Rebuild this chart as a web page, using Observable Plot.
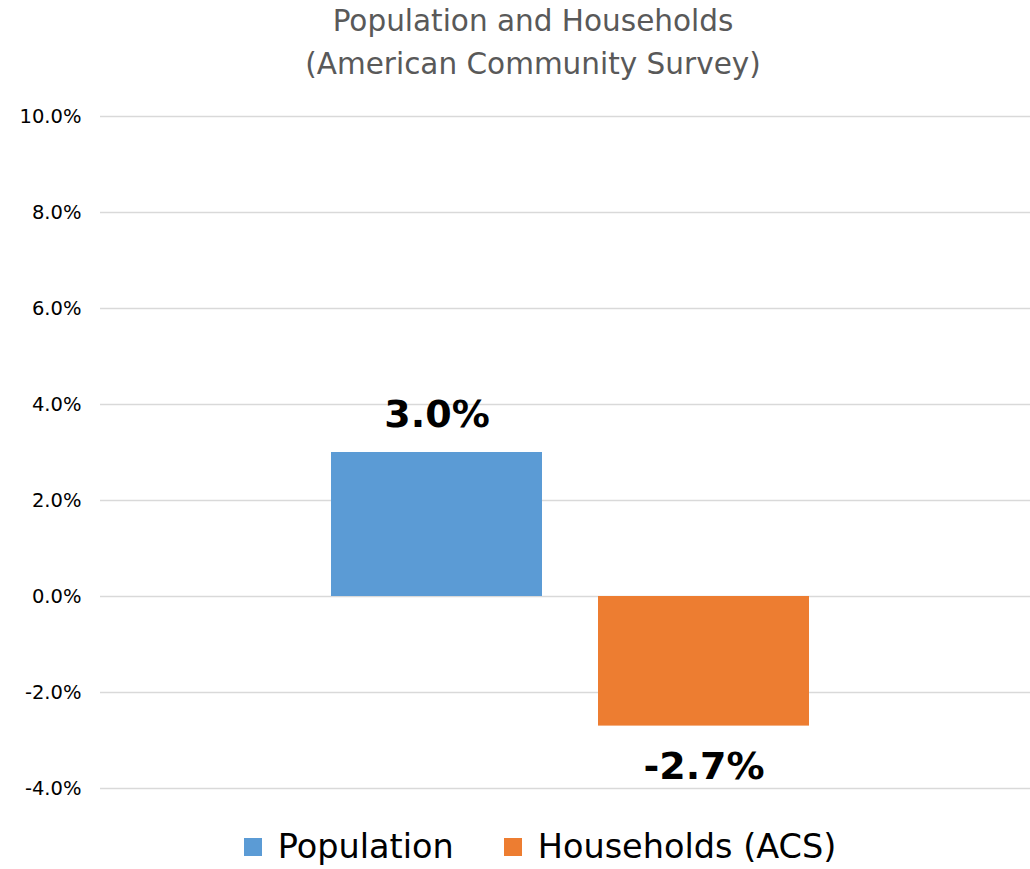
<!DOCTYPE html>
<html>
<head>
<meta charset="utf-8">
<script src="https://cdn.jsdelivr.net/npm/d3@7"></script>
<script src="https://cdn.jsdelivr.net/npm/@observablehq/plot@0.6"></script>
<style>
  html, body { margin: 0; padding: 0; background: #fff; }
  body { width: 1030px; height: 869px; overflow: hidden; font-family: "DejaVu Sans", sans-serif; }
  #title { height: 90px; text-align: center; color: #595959; font-size: 29.5px; line-height: 43px; padding-top: 0px; padding-left: 36px; box-sizing: border-box; }
  #chart { height: 730px; }
  #legend { height: 49px; display: flex; justify-content: center; align-items: center; font-size: 33.5px; color: #000; padding-left: 50px; padding-top: 4px; box-sizing: border-box; }
  .item { display: flex; align-items: center; }
  .sw { width: 18px; height: 18px; margin-right: 16px; }
</style>
</head>
<body>
<div id="title">Population and Households<br>(American Community Survey)</div>
<div id="chart"></div>
<div id="legend"></div>
<script>
const categories = ["Population", "Households (ACS)"];
const values = [3.0, -2.7];
const colors = ["#5B9BD5", "#ED7D31"];
const yTicks = [-4, -2, 0, 2, 4, 6, 8, 10];

const data = categories.map((c, i) => ({category: c, value: values[i]}));

const plot = Plot.plot({
  width: 1030,
  height: 730,
  marginTop: 26,
  marginBottom: 32,
  marginLeft: 100,
  marginRight: 0,
  style: {fontFamily: "DejaVu Sans, sans-serif", background: "#fff"},
  x: {domain: categories, range: [331, 809], paddingInner: 0.21, paddingOuter: 0, axis: null},
  y: {domain: [-4, 10], axis: null},
  color: {domain: categories, range: colors},
  marks: [
    Plot.ruleY(yTicks, {stroke: "#d9d9d9", strokeWidth: 1.3}),
    Plot.barY(data, {x: "category", y: "value", fill: "category"}),
    Plot.text(yTicks, {
      y: d => d, frameAnchor: "left", dx: -19, textAnchor: "end",
      text: d => d.toFixed(1) + "%", fontSize: 19.5, fill: "#000"
    }),
    Plot.text(data.filter(d => d.value >= 0), {
      x: "category", y: "value", dy: -38,
      text: d => d.value.toFixed(1) + "%",
      fontSize: 38, fontWeight: "bold", fill: "#000"
    }),
    Plot.text(data.filter(d => d.value < 0), {
      x: "category", y: "value", dy: 41,
      text: d => d.value.toFixed(1) + "%",
      fontSize: 38, fontWeight: "bold", fill: "#000"
    })
  ]
});
document.getElementById("chart").appendChild(plot);

const legend = document.getElementById("legend");
categories.forEach((c, i) => {
  const item = document.createElement("div");
  item.className = "item";
  if (i > 0) item.style.marginLeft = "50px";
  const sw = document.createElement("div");
  sw.className = "sw";
  sw.style.background = colors[i];
  const label = document.createElement("span");
  label.textContent = c;
  item.appendChild(sw);
  item.appendChild(label);
  legend.appendChild(item);
});
</script>
</body>
</html>
